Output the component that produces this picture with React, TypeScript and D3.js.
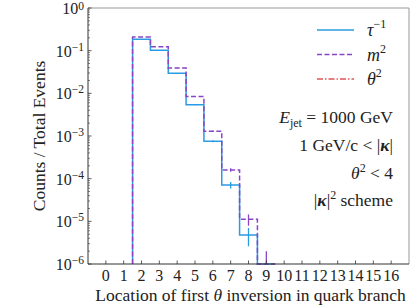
import React from 'react';
import * as d3 from 'd3';

// bin centres and normalised counts
const binCenters = [2, 3, 4, 5, 6, 7, 8, 9];
const tauInv = [0.185, 0.102, 0.0295, 0.0054, 0.00075, 7.1e-5, 4.8e-6, 0];
const tauInvErr = [0.001, 0.0008, 0.0004, 0.00015, 4e-5, 1.2e-5, 2.2e-6, 0];
const mass2 = [0.209, 0.124, 0.0393, 0.0084, 0.00129, 0.00016, 1.12e-5, 1e-6];
const mass2Err = [0.001, 0.0009, 0.0005, 0.0002, 5e-5, 1.5e-5, 3.3e-6, 1e-6];
const theta2: number[] = [];
const xTicks = [0, 1, 2, 3, 4, 5, 6, 7, 8, 9, 10, 11, 12, 13, 14, 15, 16];
const yTickExps = [0, -1, -2, -3, -4, -5, -6];

const W = 411;
const H = 306;
const margin = { top: 8, right: 2, bottom: 42, left: 88 };
const FONT = '"Liberation Serif", "DejaVu Serif", serif';

const App: React.FC = () => {
  const x = d3.scaleLinear().domain([-1, 17]).range([margin.left, W - margin.right]);
  const y = d3.scaleLog().domain([1e-6, 1]).range([H - margin.bottom, margin.top]).clamp(true);
  const floor = 1e-6;

  const stepPath = (vals: number[]) => {
    const pts: [number, number][] = [[binCenters[0] - 0.5, floor]];
    vals.forEach((v, i) => {
      const vv = Math.max(v, floor);
      pts.push([binCenters[i] - 0.5, vv]);
      pts.push([binCenters[i] + 0.5, vv]);
    });
    pts.push([binCenters[vals.length - 1] + 0.5, floor]);
    return d3.line<[number, number]>().x(d => x(d[0])).y(d => y(d[1]))(pts) || '';
  };

  const minor: number[] = [];
  for (let e = -6; e < 0; e++) {
    for (let k = 2; k <= 9; k++) minor.push(k * Math.pow(10, e));
  }

  const series = [
    { vals: tauInv, err: tauInvErr, color: '#2b9be3', dash: '', label: 'τ', sup: '−1' },
    { vals: mass2, err: mass2Err, color: '#8a45c6', dash: '5,2.5', label: 'm', sup: '2' },
    { vals: theta2, err: [] as number[], color: '#e05555', dash: '6,2,1.5,2', label: 'θ', sup: '2' },
  ];

  const y0 = H - margin.bottom;
  const x0 = margin.left;
  const x1 = W - margin.right;
  const yTop = margin.top;

  return (
    <svg width={W} height={H} style={{ position: 'absolute', left: 0, top: 0, background: '#fff' }} fontFamily={FONT}>
      {/* histograms */}
      {series.filter(s => s.vals.length).map((s, si) => (
        <g key={si}>
          <path d={stepPath(s.vals)} fill="none" stroke={s.color} strokeWidth={1.5} strokeDasharray={s.dash} />
          {s.vals.map((v, i) => {
            const e = s.err[i];
            if (!e || !v) return null;
            return (
              <line key={i} x1={x(binCenters[i])} x2={x(binCenters[i])} y1={y(v + e)} y2={y(Math.max(v - e, 1e-9))}
                stroke={s.color} strokeWidth={1.3} />
            );
          })}
        </g>
      ))}

      {/* frame */}
      <line x1={x0} x2={x1} y1={yTop} y2={yTop} stroke="#999" strokeWidth={1} />
      <line x1={x1} x2={x1} y1={yTop} y2={y0} stroke="#999" strokeWidth={1} />
      <line x1={x0} x2={x1} y1={y0} y2={y0} stroke="#333" strokeWidth={1} />
      <line x1={x0} x2={x0} y1={yTop} y2={y0} stroke="#333" strokeWidth={1} />

      {/* x ticks */}
      {xTicks.map(t => (
        <g key={t}>
          <line x1={x(t)} x2={x(t)} y1={y0} y2={y0 - 3.5} stroke="#333" strokeWidth={0.8} />
          <text x={x(t)} y={y0 + 17} textAnchor="middle" fontSize={16} fill="#222">{t}</text>
        </g>
      ))}

      {/* y ticks */}
      {yTickExps.map(e => (
        <g key={e}>
          <line x1={x0} x2={x0 + 3.5} y1={y(Math.pow(10, e))} y2={y(Math.pow(10, e))} stroke="#333" strokeWidth={0.8} />
          <text x={x0 - 4} y={y(Math.pow(10, e)) + 6} textAnchor="end" fontSize={16} fill="#222">
            10<tspan dy={e === 0 ? -4.5 : -6} fontSize={11.5}>{e === 0 ? '0' : '−' + -e}</tspan>
          </text>
        </g>
      ))}
      {minor.map((m, i) => (
        <line key={i} x1={x0} x2={x0 + 2} y1={y(m)} y2={y(m)} stroke="#333" strokeWidth={0.6} />
      ))}

      {/* axis labels */}
      <text x={(x0 + x1) / 2 + 2} y={H - 5} textAnchor="middle" fontSize={17.5} fill="#222">
        Location of first <tspan fontStyle="italic">θ</tspan> inversion in quark branch
      </text>
      <text transform={`translate(45, ${(yTop + y0) / 2}) rotate(-90)`} textAnchor="middle" fontSize={17.5} fill="#222">
        Counts / Total Events
      </text>

      {/* legend */}
      {series.map((s, i) => (
        <g key={i} transform={`translate(0, ${30 + i * 24.5})`}>
          <line x1={317} x2={354} y1={0} y2={0} stroke={s.color} strokeWidth={1.5} strokeDasharray={s.dash} />
          <text x={367} y={6} fontSize={18} fontStyle="italic" fill="#222">
            {s.label}<tspan dy={-8} fontSize={12} fontStyle="normal">{s.sup}</tspan>
          </text>
        </g>
      ))}

      {/* annotations */}
      <g fontSize={17.5} fill="#222" textAnchor="end">
        <text x={393} y={123}>
          <tspan fontStyle="italic">E</tspan><tspan dy={4} fontSize={12}>jet</tspan><tspan dy={-4}> = 1000 GeV</tspan>
        </text>
        <text x={393} y={151}>
          1 GeV/c &lt; |<tspan fontWeight="bold" fontStyle="italic">κ</tspan>|
        </text>
        <text x={393} y={179}>
          <tspan fontStyle="italic">θ</tspan><tspan dy={-7} fontSize={12}>2</tspan><tspan dy={7}> &lt; 4</tspan>
        </text>
        <text x={393} y={206}>
          |<tspan fontWeight="bold" fontStyle="italic">κ</tspan>|<tspan dy={-7} fontSize={12}>2</tspan><tspan dy={7}> scheme</tspan>
        </text>
      </g>
    </svg>
  );
};

export default App;
